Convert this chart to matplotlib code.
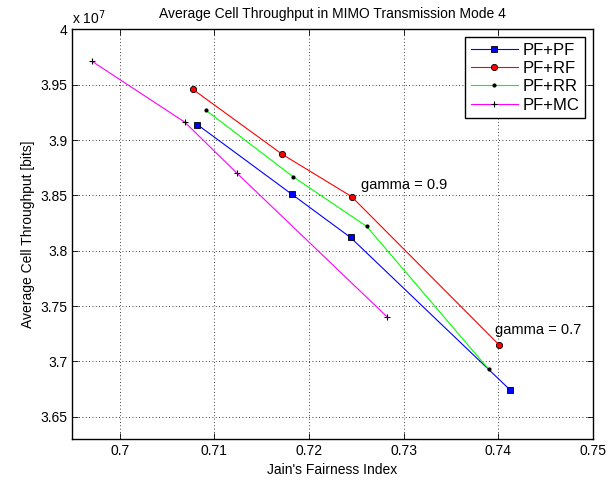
import numpy as np
import matplotlib.pyplot as plt

plt.rcParams['font.family'] = ['Liberation Sans', 'DejaVu Sans']
plt.rcParams['font.size'] = 10

# Jain's fairness index and throughput (x 10^7 bits)
pf_pf_x = [0.7082, 0.7182, 0.7244, 0.7413]
pf_pf_y = [3.914, 3.851, 3.812, 3.674]
pf_rf_x = [0.7077, 0.7172, 0.7245, 0.7401]
pf_rf_y = [3.946, 3.887, 3.849, 3.715]
pf_rr_x = [0.7091, 0.7183, 0.7261, 0.7390]
pf_rr_y = [3.927, 3.867, 3.822, 3.693]
pf_mc_x = [0.6971, 0.7069, 0.7124, 0.7283]
pf_mc_y = [3.971, 3.916, 3.870, 3.740]

xticks = [0.70, 0.71, 0.72, 0.73, 0.74, 0.75]
yticks = [3.65, 3.7, 3.75, 3.8, 3.85, 3.9, 3.95, 4.0]
ytick_labels = ['3.65', '3.7', '3.75', '3.8', '3.85', '3.9', '3.95', '4']

fig = plt.figure(figsize=(6.08, 4.86), dpi=100)
ax = fig.add_axes([0.119, 0.0967, 0.856, 0.843])

lw = 0.8
ax.plot(pf_pf_x, pf_pf_y, color='b', lw=lw, marker='s', ms=4,
        mfc='b', mec='k', mew=0.6, label='PF+PF')
ax.plot(pf_rf_x, pf_rf_y, color='r', lw=lw, marker='o', ms=4.5,
        mfc='r', mec='k', mew=0.6, label='PF+RF')
ax.plot(pf_rr_x, pf_rr_y, color='#00ff00', lw=lw, marker='.', ms=4,
        mfc='k', mec='k', label='PF+RR')
ax.plot(pf_mc_x, pf_mc_y, color='#ff00ff', lw=lw, marker='+', ms=4.5,
        mfc='k', mec='k', mew=0.8, label='PF+MC')

ax.text(0.7255, 3.859, 'gamma = 0.9', fontsize=10.5, va='center')
ax.text(0.7397, 3.728, 'gamma = 0.7', fontsize=10.5, va='center')

ax.set_xlim(0.695, 0.75)
ax.set_ylim(3.63, 4.0)
ax.set_xticks(xticks)
ax.set_xticklabels(['0.7', '0.71', '0.72', '0.73', '0.74', '0.75'])
ax.set_yticks(yticks)
ax.set_yticklabels(ytick_labels)
ax.tick_params(direction='in', top=True, right=True, length=4, width=0.6)
ax.grid(True, linestyle=(0, (1, 3)), color='k', linewidth=0.6)
for s in ax.spines.values():
    s.set_linewidth(1.0)

ax.text(0.0, 1.005, r'x 10$^{7}$', transform=ax.transAxes, ha='left', va='bottom')

ax.set_title('Average Cell Throughput in MIMO Transmission Mode 4', fontsize=10, pad=8)
ax.set_xlabel("Jain's Fairness Index")
ax.set_ylabel('Average Cell Throughput [bits]')

leg = ax.legend(loc='upper right', fancybox=False, edgecolor='k', framealpha=1,
                fontsize=12, borderpad=0.35, labelspacing=0.2, handlelength=2.8,
                handletextpad=0.3, borderaxespad=0.45)
leg.get_frame().set_linewidth(1.0)

fig.savefig('out.png', dpi=100)
